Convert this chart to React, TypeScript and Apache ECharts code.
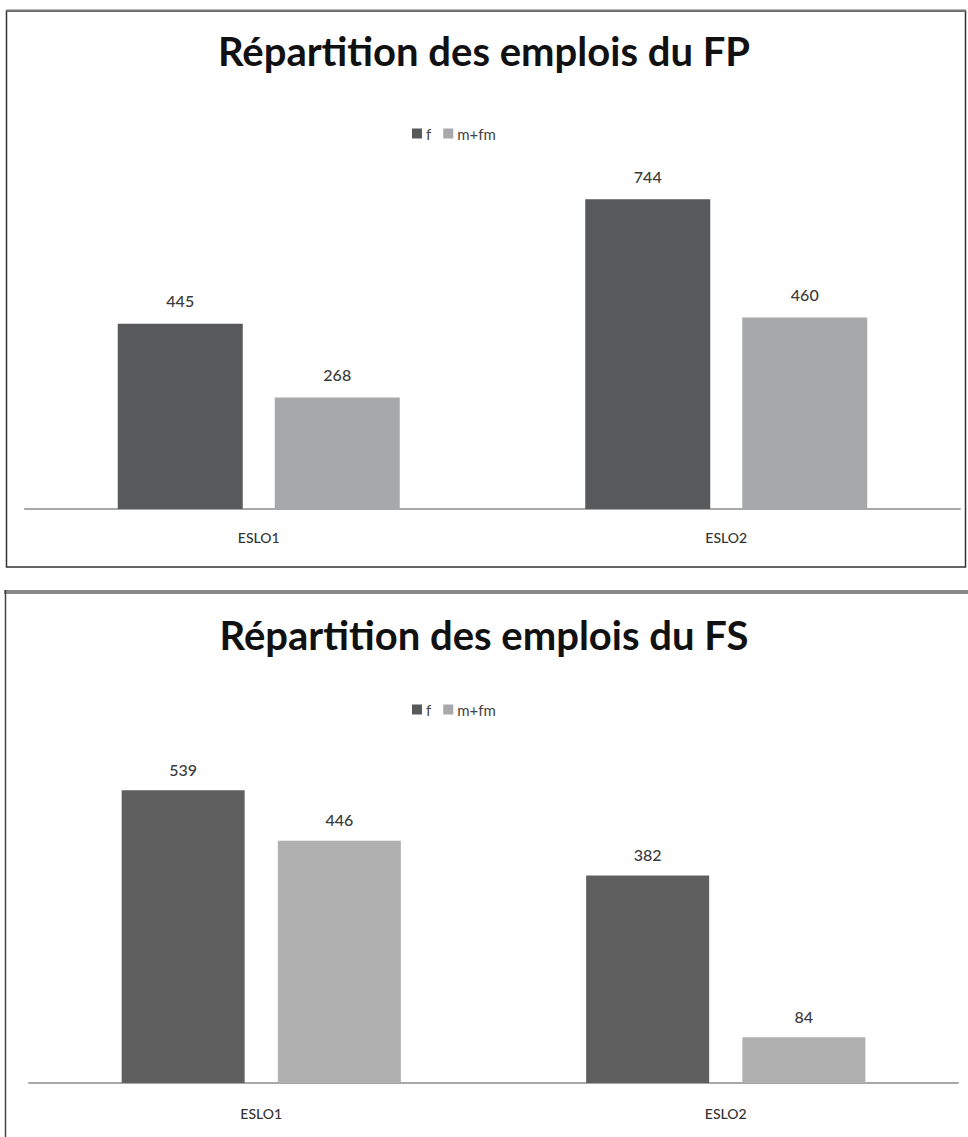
import React, { useEffect, useRef } from "react";
import * as echarts from "echarts";

const categories = ["ESLO1", "ESLO2"];
const seriesNames = ["f", "m+fm"];
const fpF = [445, 744];
const fpM = [268, 460];
const fsF = [539, 382];
const fsM = [446, 84];
const titles = ["Répartition des emplois du FP", "Répartition des emplois du FS"];

const FONT = "Lato, 'Open Sans', sans-serif";

export default function App() {
  const ref = useRef<HTMLDivElement>(null);
  useEffect(() => {
    if (!ref.current) return;
    const chart = echarts.init(ref.current, undefined, { renderer: "svg" });
    const label = (dist: number) => ({
      show: true,
      position: "top",
      distance: dist,
      fontFamily: FONT,
      fontSize: 16,
      fontWeight: 500,
      color: "#3a3a3a",
    });
    const xAxis = (gi: number, margin: number) => ({
      type: "category",
      gridIndex: gi,
      data: categories,
      axisLine: { lineStyle: { color: "#a8a8a8", width: 2 } },
      axisTick: { show: false },
      axisLabel: { margin, fontFamily: FONT, fontSize: 14, fontWeight: 500, color: "#333" },
    });
    const yAxis = (gi: number, max: number) => ({
      type: "value",
      gridIndex: gi,
      min: 0,
      max,
      show: false,
      splitLine: { show: false },
    });
    const legend = (top: number) => ({
      data: seriesNames,
      top,
      left: 407,
      itemWidth: 10,
      itemHeight: 10,
      itemGap: 12,
      icon: "rect",
      textStyle: { fontFamily: FONT, fontSize: 15, color: "#444", padding: [0, 0, 0, -1] },
      selectedMode: false,
    });
    chart.setOption({
      animation: false,
      backgroundColor: "#ffffff",
      title: [
        {
          text: titles[0],
          left: "center",
          top: 26,
          textStyle: { fontFamily: FONT, fontSize: 40, fontWeight: "bold", color: "#111" },
        },
        {
          text: titles[1],
          left: "center",
          top: 610,
          textStyle: { fontFamily: FONT, fontSize: 40, fontWeight: "bold", color: "#111" },
        },
      ],
      legend: [legend(121), legend(697)],
      grid: [
        { left: 25, width: 935, top: 176, bottom: 628 },
        { left: 29, width: 929, top: 757, bottom: 54 },
      ],
      xAxis: [xAxis(0, 21), xAxis(1, 23)],
      yAxis: [yAxis(0, 800), yAxis(1, 600)],
      color: ["#58595b", "#a7a8aa"],
      series: [
        {
          name: seriesNames[0],
          type: "bar",
          xAxisIndex: 0,
          yAxisIndex: 0,
          data: fpF,
          barWidth: 125,
          barGap: "25.6%",
          itemStyle: { color: "#58595b" },
          label: label(15),
        },
        {
          name: seriesNames[1],
          type: "bar",
          xAxisIndex: 0,
          yAxisIndex: 0,
          data: fpM,
          barWidth: 125,
          barGap: "25.6%",
          itemStyle: { color: "#a7a8aa" },
          label: label(15),
        },
        {
          name: seriesNames[0],
          type: "bar",
          xAxisIndex: 1,
          yAxisIndex: 1,
          data: fsF,
          barWidth: 123,
          barGap: "27%",
          itemStyle: { color: "#5f5f5f" },
          label: label(13),
        },
        {
          name: seriesNames[1],
          type: "bar",
          xAxisIndex: 1,
          yAxisIndex: 1,
          data: fsM,
          barWidth: 123,
          barGap: "27%",
          itemStyle: { color: "#b0b0b0" },
          label: label(13),
        },
      ],
      graphic: [
        {
          type: "rect",
          shape: { x: 6.5, y: 11, width: 959, height: 556 },
          style: { fill: "none", stroke: "#333", lineWidth: 1.5 },
          silent: true,
        },
        {
          type: "line",
          shape: { x1: 6.5, y1: 10.5, x2: 966, y2: 10.5 },
          style: { stroke: "#777", lineWidth: 2 },
          silent: true,
        },
        {
          type: "line",
          shape: { x1: 4, y1: 592, x2: 968, y2: 592 },
          style: { stroke: "#888", lineWidth: 4 },
          silent: true,
        },
        {
          type: "line",
          shape: { x1: 5.5, y1: 590, x2: 5.5, y2: 1137 },
          style: { stroke: "#444", lineWidth: 1.5 },
          silent: true,
        },
      ],
    });
    return () => chart.dispose();
  }, []);
  return (
    <div
      ref={ref}
      style={{ position: "absolute", left: 0, top: 0, width: 968, height: 1137 }}
    />
  );
}
